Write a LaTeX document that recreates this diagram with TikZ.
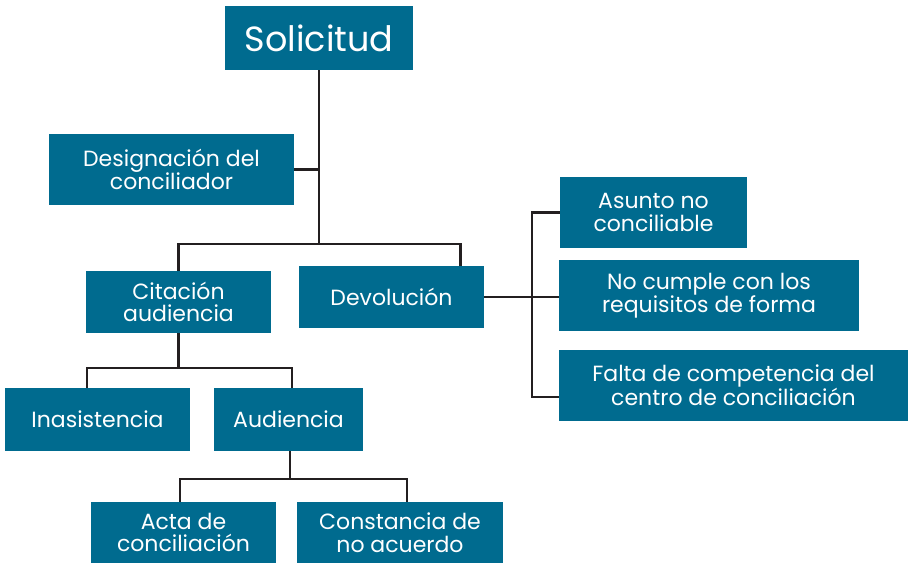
\documentclass[tikz,border=0pt]{standalone}
\usepackage{fontspec}
\setmainfont{Poppins}
\usetikzlibrary{calc}
\definecolor{boxc}{RGB}{0,107,143}
\definecolor{linec}{RGB}{35,31,32}
\tikzset{
  box/.style={fill=boxc, text=white, inner sep=0pt, align=center,
    font=\fontsize{22}{22.5}\selectfont},
  conn/.style={draw=linec, line width=2.8pt}
}
\begin{document}
\begin{tikzpicture}[x=1pt,y=-1pt]
\useasboundingbox (0,0) rectangle (911,564);
\node[box, minimum width=188pt, minimum height=64pt, font=\fontsize{35}{38}\selectfont] (sol) at (319,38) {Solicitud};
\node[box, minimum width=245pt, minimum height=71pt] (des) at (171.5,169.5) {Designación del\\conciliador};
\node[box, minimum width=185pt, minimum height=62pt] (cit) at (178.5,302) {Citación\\audiencia};
\node[box, minimum width=185pt, minimum height=62pt] (dev) at (391.5,297) {Devolución};
\node[box, minimum width=187pt, minimum height=71pt] (asu) at (653.5,212.5) {Asunto no\\conciliable};
\node[box, minimum width=300pt, minimum height=71pt] (nocu) at (709,295.5) {No cumple con los\\requisitos de forma};
\node[box, minimum width=349pt, minimum height=71pt] (fal) at (733.5,385.5) {Falta de competencia del\\centro de conciliación};
\node[box, minimum width=185pt, minimum height=63pt] (ina) at (97.5,419.5) {Inasistencia};
\node[box, minimum width=149pt, minimum height=63pt] (aud) at (288.5,419.5) {Audiencia};
\node[box, minimum width=185pt, minimum height=61pt] (acta) at (183.5,532.5) {Acta de\\conciliación};
\node[box, minimum width=206pt, minimum height=61pt] (cons) at (400,532.5) {Constancia de\\no acuerdo};
\coordinate (j1) at (319,244);
\coordinate (j2) at (178.5,368);
\coordinate (j3) at (290,479);
\coordinate (j4) at (532,297);
\draw[conn] (sol.south) -- (j1);
\draw[conn] (des.east) -- (des.east -| j1);
\draw[conn] (cit.north) |- (j1) -| ($(dev.north east)+(-24,0)$);
\draw[conn] (cit.south) -- (j2);
\draw[conn] ($(ina.north)+(-10.5,0)$) |- (j2) -| ($(aud.north)+(3.5,0)$);
\draw[conn] ($(aud.south)+(1.5,0)$) -- (j3);
\draw[conn] ($(acta.north)+(-3.5,0)$) |- (j3) -| ($(cons.north)+(7,0)$);
\draw[conn] (dev.east) -- (j4);
\draw[conn] (asu.west) -| (j4);
\draw[conn] (nocu.west |- j4) -- (j4);
\draw[conn] ($(fal.west)+(0,11.5)$) -| (j4);
\end{tikzpicture}
\end{document}
